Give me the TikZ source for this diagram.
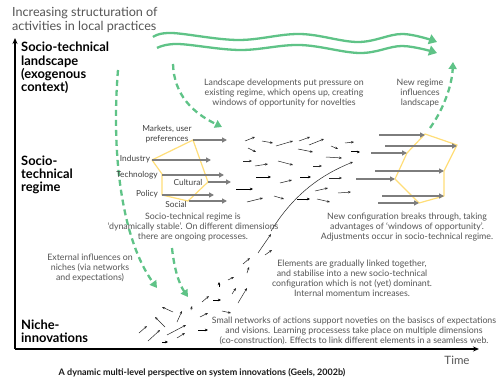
\documentclass[tikz,border=0pt]{standalone}
\usepackage{fontspec}
\setmainfont{Lato}
\usepackage{tikz}
\usetikzlibrary{arrows.meta}
\usepackage[usenames,svgnames]{xcolor}

\definecolor{mlpgreen}{RGB}{95,195,135}
\definecolor{mlpyellow}{RGB}{255,222,120}
\definecolor{mlpgrey}{RGB}{125,125,125}
\definecolor{mlptext}{RGB}{85,85,85}

\begin{document}
\begin{tikzpicture}[x=1pt,y=-1pt,line join=round,
    txt/.style={inner sep=0pt,align=center,text=mlptext,font=\fontsize{8.8}{9.9}\selectfont},
    level/.style={inner sep=0pt,align=left,anchor=west,font=\fontsize{12.9}{13.3}\selectfont\bfseries},
    dim/.style={inner sep=0pt,align=center,text=black!75,font=\fontsize{8.3}{10.5}\selectfont},
    wave/.style={mlpgreen,line width=2.3pt,->,>={Triangle[length=8pt,width=10pt]}},
    infl/.style={mlpgreen,line width=2.3pt,dash pattern=on 6pt off 4pt,->,>={Triangle[length=7pt,width=8pt]}},
    dimarrow/.style={mlpgrey,line width=2.2pt,->,>={Triangle[length=5pt,width=5pt]}},
    web/.style={black!85,line width=0.5pt,->,>={Stealth[length=3pt,width=2.4pt]}},
    webthick/.style={black,line width=1pt,->,>={Stealth[length=3.2pt,width=2.8pt]}},
    axis/.style={black,line width=1.6pt,->,>={Stealth[length=6pt,width=5pt]}}]

  \useasboundingbox[fill=white] (0,0) rectangle (497,382);

  % axes
  \coordinate (o) at (15,349);
  \coordinate (top) at (15,38);
  \coordinate (right) at (479,349);
  \draw[axis] (o) -- (top);
  \draw[axis] (o) -- (right);
  \node[txt,font=\fontsize{11.5}{13}\selectfont] (time) at (457,360) {Time};
  \node[txt,align=left,anchor=west,font=\fontsize{12.6}{14}\selectfont] (struct) at (12,20)
    {Increasing structuration of\\activities in local practices};

  % levels
  \node[level] (land) at (21,68) {Socio-technical\\landscape\\(exogenous\\context)};
  \node[level] (regime) at (21,175) {Socio-\\technical\\regime};
  \node[level] (niche) at (21,331) {Niche-\\innovations};

  % landscape developments
  \draw[wave] plot[smooth,tension=0.6] coordinates
    {(153,37) (172,33) (238,40) (300,34) (358,42) (402,34) (437,42)};
  \draw[wave] plot[smooth,tension=0.6] coordinates
    {(157,48) (178,44) (240,50) (300,45) (360,53) (402,46) (437,53)};

  \node[txt] (press) at (284,93) {Landscape developments put pressure on\\existing regime, which opens up, creating\\windows of opportunity for novelties};
  \node[txt] (newreg) at (420,93) {New regime\\influences\\landscape};

  % green dashed influences
  \coordinate (a1) at (173,64);  \coordinate (a2) at (222,127);
  \coordinate (b1) at (118,70);  \coordinate (b2) at (157,288);
  \coordinate (c1) at (172,248); \coordinate (c2) at (188,297);
  \coordinate (d1) at (430,128); \coordinate (d2) at (453,62);
  \draw[infl] (a1) .. controls (174,95) and (193,113) .. (a2);
  \draw[infl] (b1) .. controls (111,155) and (122,240) .. (b2);
  \draw[infl] (c1) .. controls (174,268) and (179,284) .. (c2);
  \draw[infl] (d1) .. controls (443,110) and (452,86) .. (d2);

  % regime dimensions (left)
  \draw[mlpyellow,line width=1.2pt] (193,140) -- (152,160) -- (162,174) -- (162,195)
    -- (188,201) -- (208,182) -- cycle;
  \foreach \xa/\ya/\xb/\yb [count=\i] in {193/140/227/140, 152/160/211/160, 162/175/224/175,
      208/182/231/182, 162/195/214/195, 189/201/227/201}{
    \coordinate (l\i) at (\xa,\ya);
    \coordinate (le\i) at (\xb,\yb);
    \draw[dimarrow] (l\i) -- (le\i);
  }
  \node[dim] (markets) at (167,134) {Markets, user\\preferences};
  \node[dim] (industry) at (135,159) {Industry};
  \node[dim] (techn) at (137,175) {Technology};
  \node[dim] (cult) at (188,182) {Cultural};
  \node[dim] (policy) at (147,194) {Policy};
  \node[dim] (social) at (176,204) {Social};

  % regime dimensions (right)
  \draw[mlpyellow,line width=1.2pt] (425,134) -- (457,145) -- (444,171) -- (444,196)
    -- (419,203) -- (395,179) -- (407,153) -- cycle;
  \foreach \xa/\ya/\xb/\yb [count=\i] in {379/135/425/135, 385/146/457/146, 371/153/407/153,
      375/171/444/171, 356/179/395/179, 382/196/444/196, 378/203/419/203}{
    \coordinate (r\i) at (\xa,\ya);
    \coordinate (re\i) at (\xb,\yb);
    \draw[dimarrow] (r\i) -- (re\i);
  }

  % ongoing processes in the regime
  \foreach \xa/\ya/\xb/\yb in {245/141/255/137, 262/141/273/143, 276/146/293/141, 299/141/310/137,
      309/145/324/139, 331/146/338/149, 345/143/354/142, 248/148/256/152, 298/149/313/152,
      326/157/342/158, 243/161/252/161, 255/166/268/164, 278/161/293/165, 313/166/322/166,
      280/183/292/180, 329/178/342/178, 315/191/328/188, 338/193/351/192, 247/202/263/198,
      274/196/284/199, 317/199/330/202}
    \draw[web] (\xa,\ya) -- (\xb,\yb);
  \foreach \xa/\ya/\xb/\yb in {256/177/271/177, 300/177/311/177, 351/152/360/152,
      236/189/253/189, 297/199/310/199}
    \draw[webthick] (\xa,\ya) -- (\xb,\yb);

  % niche activities
  \foreach \xa/\ya/\xb/\yb in {139/333/147/326, 148/341/160/330, 167/335/186/325, 177/338/185/333,
      200/317/208/313, 202/302/209/296, 222/311/231/313, 228/280/234/277, 232/294/236/288,
      238/303/247/288, 243/264/250/258, 247/273/249/267, 177/322/182/311, 191/310/192/306,
      173/312/162/307, 165/327/155/317, 265/255/272/250, 258/253/271/234}
    \draw[web] (\xa,\ya) -- (\xb,\yb);
  \foreach \xa/\ya/\xb/\yb in {162/342/168/342, 198/330/208/330, 213/300/221/300, 219/287/219/282}
    \draw[webthick] (\xa,\ya) -- (\xb,\yb);

  % breakthrough of the new configuration
  \coordinate (n1) at (271,231);
  \coordinate (n2) at (353,162);
  \draw[web] (n1) .. controls (292,197) and (318,176) .. (n2);

  % explanations
  \node[txt] (stable) at (193,227) {Socio-technical regime is\\‘dynamically stable’. On different dimensions\\there are ongoing processes.};
  \node[txt] (breaks) at (407,227) {New configuration breaks through, taking\\advantages of ‘windows of opportunity’.\\Adjustments occur in socio-technical regime.};
  \node[txt] (extern) at (90,268) {External influences on\\niches (via networks\\and expectations)};
  \node[txt] (linked) at (352,278) {Elements are gradually linked together,\\and stabilise into a new socio-technical\\configuration which is not (yet) dominant.\\Internal momentum increases.};
  \node[txt] (small) at (354,331) {Small networks of actions support noveties on the basiscs of expectations\\and visions. Learning processess take place on multiple dimensions\\(co-construction). Effects to link different elements in a seamless web.};

  \node[inner sep=0pt,font=\fontsize{9}{10}\selectfont\bfseries,text=black!90] (caption) at (202,373)
    {A dynamic multi-level perspective on system innovations (Geels, 2002b)};

\end{tikzpicture}
\end{document}
